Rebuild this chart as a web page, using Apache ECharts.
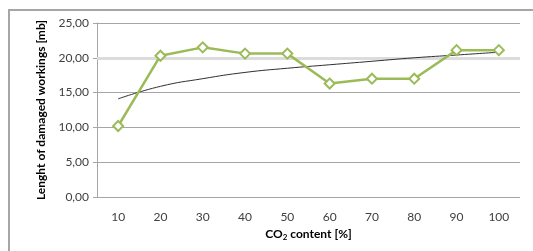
<!DOCTYPE html>
<html>
<head>
<meta charset="utf-8">
<script src="https://cdn.jsdelivr.net/npm/echarts@6/dist/echarts.min.js"></script>
<style>
  html, body { margin: 0; padding: 0; background: #fff; }
  #main { width: 533px; height: 251px; }
</style>
</head>
<body>
<div id="main"></div>
<script>
// CO2 content categories [%]
const co2Content = ["10", "20", "30", "40", "50", "60", "70", "80", "90", "100"];
// measured length of damaged workings [mb]
const damagedLength = [10.2, 20.3, 21.5, 20.6, 20.6, 16.3, 17.0, 17.0, 21.1, 21.1];
// logarithmic trendline
const trendLength = [14.1, 15.9, 17.0, 17.9, 18.5, 19.0, 19.5, 20.0, 20.4, 20.8];

const fontFamily = "Lato, 'Open Sans', sans-serif";

const chart = echarts.init(document.getElementById("main"));

chart.setOption({
  animation: false,
  backgroundColor: "#fff",
  graphic: [
    {
      type: "rect",
      shape: { x: 9, y: 10, width: 560, height: 280 },
      style: { fill: "none", stroke: "#a6a6a6", lineWidth: 2 },
      silent: true,
    },
  ],
  grid: { left: 97, right: 13, top: 23, bottom: 54 },
  xAxis: {
    type: "category",
    data: co2Content,
    boundaryGap: true,
    axisLine: { show: false },
    axisTick: { show: false },
    axisLabel: { color: "#404040", fontSize: 12, fontFamily, margin: 14 },
    name: "CO{sub|2} content [%]",
    nameLocation: "middle",
    nameGap: 31,
    nameTextStyle: {
      color: "#000",
      fontSize: 12,
      fontWeight: "bold",
      fontFamily,
      rich: {
        sub: { fontSize: 8, fontWeight: "bold", fontFamily, color: "#000", padding: [5, 0, 0, 0] },
      },
    },
  },
  yAxis: {
    type: "value",
    min: 0,
    max: 25,
    interval: 5,
    axisLine: { show: true, lineStyle: { color: "#a6a6a6", width: 1 } },
    axisTick: { show: true, length: 4, lineStyle: { color: "#a6a6a6" } },
    axisLabel: {
      color: "#404040",
      fontSize: 12,
      fontFamily,
      margin: 8,
      formatter: (v) => v.toFixed(2).replace(".", ","),
    },
    splitLine: { lineStyle: { color: "#a6a6a6", width: 1 } },
    name: "Lenght of damaged workings [mb]",
    nameLocation: "middle",
    nameGap: 48,
    nameRotate: 90,
    nameTextStyle: { color: "#000", fontSize: 12, fontWeight: "bold", fontFamily },
  },
  series: [
    {
      name: "trend",
      type: "line",
      data: trendLength,
      smooth: true,
      symbol: "none",
      z: 3,
      lineStyle: { color: "#303030", width: 1 },
      markLine: {
        silent: true,
        symbol: "none",
        label: { show: false },
        z: 1,
        lineStyle: { color: "#dcdcdc", width: 3, type: "solid" },
        data: [{ yAxis: 20 }],
      },
    },
    {
      name: "length",
      type: "line",
      data: damagedLength,
      symbol: "diamond",
      symbolSize: 10,
      z: 4,
      lineStyle: { color: "#9bbb59", width: 2.5 },
      itemStyle: { color: "#fff", borderColor: "#9bbb59", borderWidth: 2 },
    },
  ],
});
</script>
</body>
</html>
